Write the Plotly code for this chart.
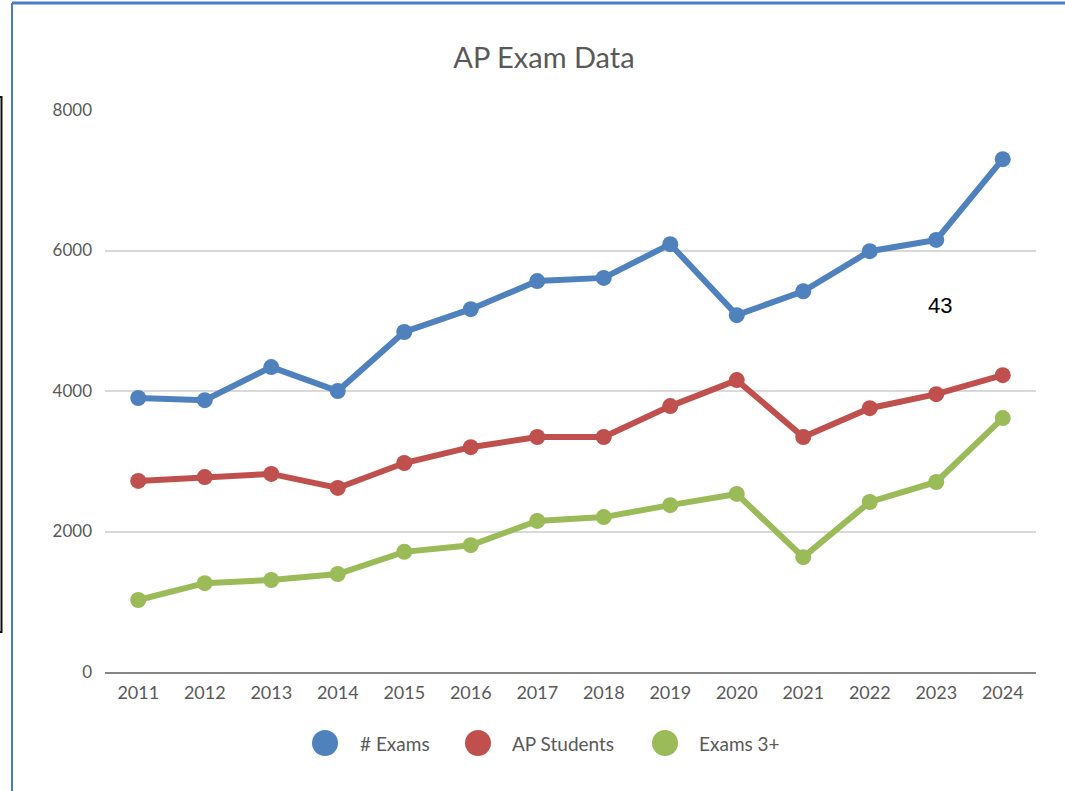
import plotly.graph_objects as go

years = [str(y) for y in range(2011, 2025)]
exams = [3900, 3870, 4340, 4000, 4840, 5165, 5565, 5610, 6090, 5080, 5420, 5990, 6150, 7300]
ap_students = [2720, 2775, 2820, 2620, 2975, 3200, 3345, 3345, 3785, 4155, 3345, 3755, 3955, 4225]
exams_3plus = [1025, 1265, 1310, 1395, 1710, 1805, 2150, 2205, 2375, 2535, 1635, 2420, 2705, 3615]

series_names = ["# Exams", "AP Students", "Exams 3+"]
series_colors = ["#4F81BD", "#C0504D", "#9BBB59"]

FONT = "Lato"
C_TEXT = "#595959"

W, H = 1065, 791
L, R, T, B = 105, 29, 110, 119


def px_x(p):
    return (p - L) / (W - L - R)


def px_y(p):
    return (H - B - p) / (H - T - B)


fig = go.Figure()
for name, vals, col in zip(series_names, [exams, ap_students, exams_3plus], series_colors):
    fig.add_trace(go.Scatter(
        x=years, y=vals, name=name, mode="lines+markers",
        line=dict(color=col, width=6),
        marker=dict(color=col, size=16),
        showlegend=False,
        hovertemplate="%{x}: %{y}<extra>" + name + "</extra>",
    ))

shapes = [
    # blue frame of the chart object
    dict(type="line", xref="paper", yref="paper", x0=px_x(12), x1=px_x(12), y0=px_y(3), y1=px_y(791),
         line=dict(color="#4A7BC8", width=2)),
    dict(type="line", xref="paper", yref="paper", x0=px_x(12), x1=px_x(1065), y0=px_y(3), y1=px_y(3),
         line=dict(color="#4A7BC8", width=3)),
    # dark edge of the window behind
    dict(type="rect", xref="paper", yref="paper", x0=px_x(-5), x1=px_x(1.5), y0=px_y(97), y1=px_y(632),
         line=dict(color="#111111", width=2)),
]

annotations = [dict(text="43", xref="paper", yref="paper", x=px_x(940), y=px_y(305),
                    xanchor="center", yanchor="middle", showarrow=False,
                    font=dict(family="Liberation Sans", size=22, color="black"))]

# legend drawn by hand: Excel uses big circle keys
legend_circle_x = [325, 478, 665]
legend_text_x = [358, 510, 697]
LEG_Y, LEG_R = 743, 13
for name, col, cx, tx in zip(series_names, series_colors, legend_circle_x, legend_text_x):
    shapes.append(dict(type="circle", xref="paper", yref="paper",
                       x0=px_x(cx - LEG_R), x1=px_x(cx + LEG_R),
                       y0=px_y(LEG_Y + LEG_R), y1=px_y(LEG_Y - LEG_R),
                       fillcolor=col, line=dict(width=0)))
    annotations.append(dict(text=name, xref="paper", yref="paper", x=px_x(tx), y=px_y(LEG_Y),
                            xanchor="left", yanchor="middle", showarrow=False,
                            font=dict(size=19, color=C_TEXT, family=FONT)))

fig.update_layout(
    width=W, height=H,
    paper_bgcolor="white", plot_bgcolor="white",
    margin=dict(l=L, r=R, t=T, b=B),
    font=dict(family=FONT, color=C_TEXT, size=17),
    title=dict(text="AP Exam Data", x=544 / W, xanchor="center", y=1 - 58 / H, yanchor="middle",
               font=dict(size=29, color=C_TEXT, family=FONT)),
    showlegend=False,
    shapes=shapes,
    annotations=annotations,
)
fig.update_xaxes(type="category", range=[-0.5, len(years) - 0.5], showgrid=False, showline=True,
                 linecolor="#868686", linewidth=2, ticks="",
                 tickfont=dict(size=18, color=C_TEXT), ticklabelstandoff=3)
fig.update_yaxes(range=[0, 8000], tickvals=[0, 2000, 4000, 6000, 8000], showgrid=True,
                 gridcolor="#D9D9D9", gridwidth=2, zeroline=False, showline=False,
                 tickfont=dict(size=17, color=C_TEXT), ticklabelstandoff=12)

fig.write_html("out.html", config={"displayModeBar": False},
               post_script="document.body.style.margin='0px';")
